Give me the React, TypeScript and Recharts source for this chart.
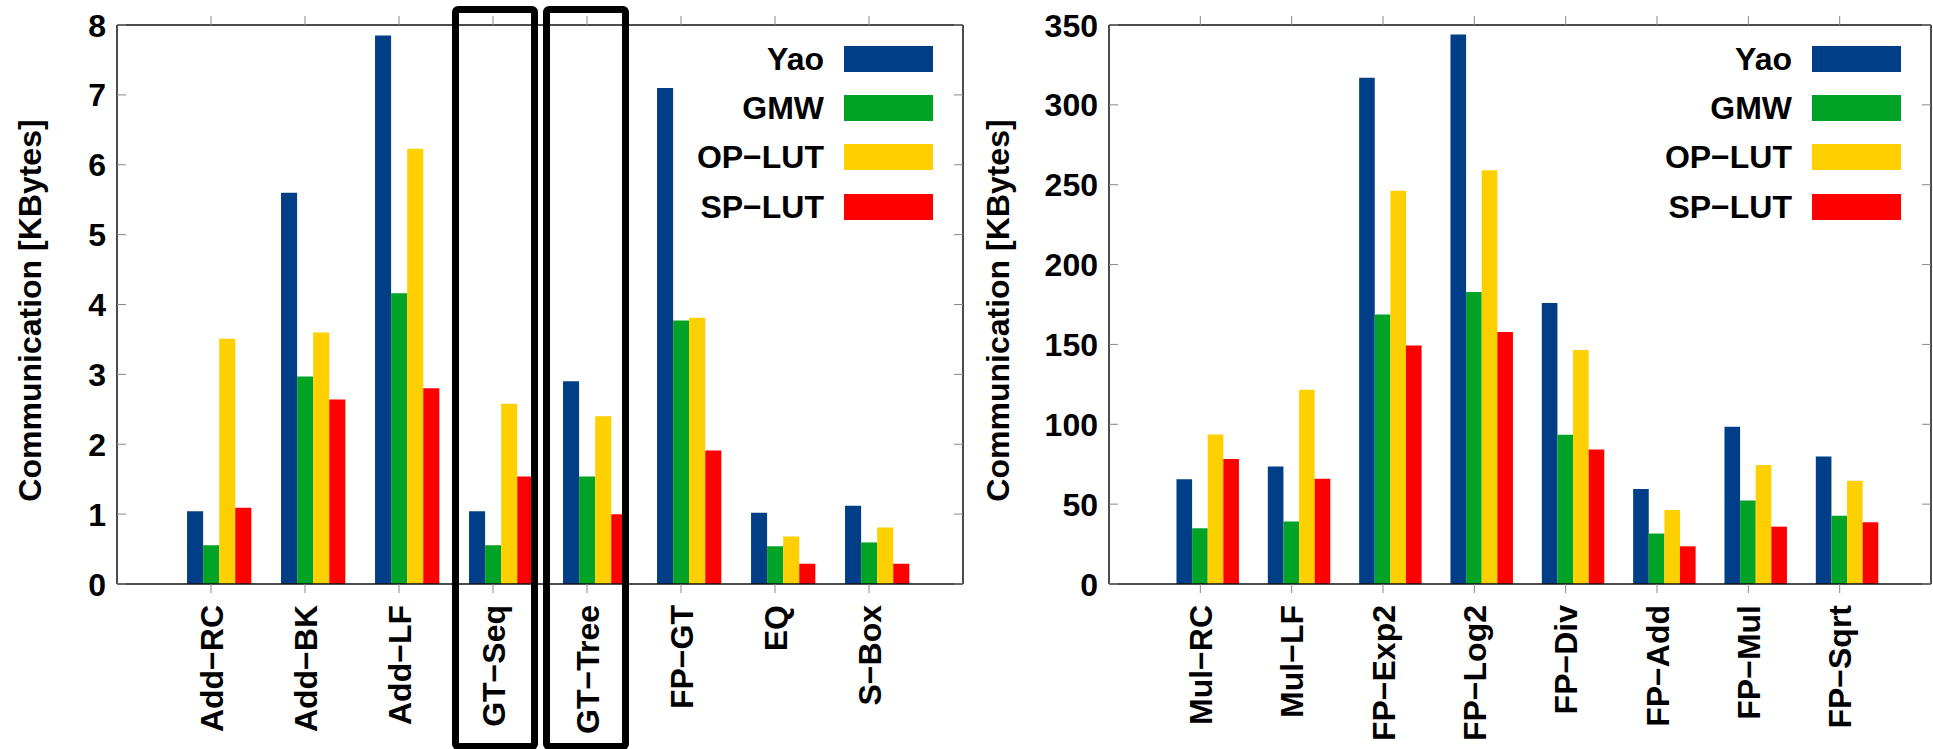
import React from 'react';
import { BarChart, Bar, XAxis, YAxis, Legend } from 'recharts';

// series shared by both panels
const seriesKeys = ['yao', 'gmw', 'op', 'sp'];
const seriesNames = ['Yao', 'GMW', 'OP−LUT', 'SP−LUT'];
const seriesColors = ['#003f87', '#00a325', '#ffd000', '#ff0000'];

// left panel (KBytes)
const leftCategories = ['Add−RC', 'Add−BK', 'Add−LF', 'GT−Seq', 'GT−Tree', 'FP−GT', 'EQ', 'S−Box'];
const leftYao = [1.04, 5.6, 7.85, 1.04, 2.9, 7.1, 1.02, 1.12];
const leftGmw = [0.555, 2.97, 4.16, 0.555, 1.54, 3.77, 0.54, 0.595];
const leftOpLut = [3.51, 3.6, 6.23, 2.58, 2.4, 3.81, 0.68, 0.81];
const leftSpLut = [1.09, 2.64, 2.8, 1.54, 1.0, 1.91, 0.29, 0.29];
const leftTicks = [0, 1, 2, 3, 4, 5, 6, 7, 8];

// right panel (KBytes)
const rightCategories = ['Mul−RC', 'Mul−LF', 'FP−Exp2', 'FP−Log2', 'FP−Div', 'FP−Add', 'FP−Mul', 'FP−Sqrt'];
const rightYao = [65.6, 73.6, 317, 344, 175.9, 59.5, 98.4, 79.8];
const rightGmw = [34.9, 39.1, 168.7, 182.8, 93.4, 31.6, 52.3, 42.8];
const rightOpLut = [93.6, 121.6, 246.2, 259.1, 146.5, 46.4, 74.5, 64.6];
const rightSpLut = [78.3, 65.9, 149.4, 157.8, 84.2, 23.6, 35.9, 38.6];
const rightTicks = [0, 50, 100, 150, 200, 250, 300, 350];

const yLabel = 'Communication [KBytes]';

const FONT = '"Liberation Sans", Arial, Helvetica, sans-serif';
const H = 749;
const TOP_AXIS_H = 25;
const BOTTOM_AXIS_H = 165;
const TICK_GRAY = '#888';

type Box = { index: number; dx: number };

type PanelProps = {
  left: number;
  width: number;
  plotLeft: number;
  plotRight: number;
  categories: string[];
  series: number[][];
  yTicks: number[];
  labelX: number;
  legendRight: number;
  boxes?: Box[];
};

function Panel(p: PanelProps) {
  const data = p.categories.map((name, i) => {
    const row: Record<string, string | number> = { name };
    seriesKeys.forEach((k, s) => {
      row[k] = p.series[s][i];
    });
    return row;
  });

  const yMax = p.yTicks[p.yTicks.length - 1];
  const plotW = p.plotRight - p.plotLeft;
  const band = plotW / 9; // like gnuplot xrange [-1:8]
  const bar = band * 0.171;
  const shift = bar / 2; // ticks sit half a bar left of the cluster centre
  const padL = band / 2 + shift;
  const padR = band - padL;
  const plotTop = TOP_AXIS_H;
  const plotBottom = H - BOTTOM_AXIS_H;

  const textStyle = { fontFamily: FONT, fontWeight: 'bold' as const, fontSize: 32, fill: '#000' };

  const BottomTick = (t: any) => {
    const x = t.payload.coordinate - shift;
    const y = t.y;
    return (
      <g>
        <line x1={x} x2={x} y1={y} y2={y + 9} stroke={TICK_GRAY} />
        <text transform={`translate(${x},${y + 21}) rotate(-90)`} textAnchor="end" dy="0.36em" style={textStyle}>
          {t.payload.value}
        </text>
      </g>
    );
  };

  const TopTick = (t: any) => {
    const x = t.payload.coordinate - shift;
    return <line x1={x} x2={x} y1={t.y} y2={t.y - 9} stroke={TICK_GRAY} />;
  };

  const LeftTick = (t: any) => (
    <g>
      <line x1={t.x} x2={t.x + 9} y1={t.y} y2={t.y} stroke={TICK_GRAY} />
      <text x={t.x - 11} y={t.y} dy="0.36em" textAnchor="end" style={textStyle}>
        {t.payload.value}
      </text>
    </g>
  );

  const RightTick = (t: any) => <line x1={t.x} x2={t.x - 9} y1={t.y} y2={t.y} stroke={TICK_GRAY} />;

  const renderLegend = (lp: any) => {
    const items = [...((lp.payload || []) as any[])].sort(
      (a, b) => seriesNames.indexOf(a.value) - seriesNames.indexOf(b.value)
    );
    return (
      <div style={{ display: 'flex', flexDirection: 'column', alignItems: 'flex-end' }}>
        {items.map((it) => (
          <div key={it.value} style={{ height: 49.4, display: 'flex', alignItems: 'center' }}>
            <span style={{ font: `bold 32px ${FONT}`, lineHeight: '32px', color: '#000', marginRight: 20 }}>
              {it.value}
            </span>
            <span style={{ display: 'inline-block', width: 89, height: 26, background: it.color }} />
          </div>
        ))}
      </div>
    );
  };

  const axisLine = { stroke: '#111', strokeWidth: 1.5 };

  return (
    <div style={{ position: 'absolute', left: p.left, top: 0, width: p.width, height: H }}>
      <BarChart
        width={p.width}
        height={H}
        data={data}
        barGap={0}
        margin={{ top: 0, bottom: 0, left: 0, right: p.width - p.plotRight - 1 }}
      >
        <XAxis
          dataKey="name"
          type="category"
          height={BOTTOM_AXIS_H}
          padding={{ left: padL, right: padR }}
          interval={0}
          tickSize={0}
          tickMargin={0}
          tickLine={false}
          axisLine={axisLine}
          tick={BottomTick}
        />
        <XAxis
          xAxisId="top"
          orientation="top"
          dataKey="name"
          type="category"
          height={TOP_AXIS_H}
          padding={{ left: padL, right: padR }}
          interval={0}
          tickSize={0}
          tickMargin={0}
          tickLine={false}
          axisLine={axisLine}
          tick={TopTick}
        />
        <YAxis
          type="number"
          width={p.plotLeft}
          domain={[0, yMax]}
          ticks={p.yTicks}
          interval={0}
          allowDataOverflow
          tickSize={0}
          tickMargin={0}
          tickLine={false}
          axisLine={axisLine}
          tick={LeftTick}
          label={() => (
            <text
              transform={`translate(${p.labelX},${(plotTop + plotBottom) / 2 + 6}) rotate(-90)`}
              textAnchor="middle"
              style={textStyle}
            >
              {yLabel}
            </text>
          )}
        />
        <YAxis
          yAxisId="r"
          orientation="right"
          type="number"
          width={1}
          domain={[0, yMax]}
          ticks={p.yTicks}
          interval={0}
          allowDataOverflow
          tickSize={0}
          tickMargin={0}
          tickLine={false}
          axisLine={axisLine}
          tick={RightTick}
        />
        <Legend
          layout="vertical"
          align="center"
          verticalAlign="middle"
          content={renderLegend}
          wrapperStyle={{ position: 'absolute', top: 34, left: p.legendRight - 420, width: 420, height: 'auto' }}
        />
        {seriesKeys.map((k, s) => (
          <Bar key={k} dataKey={k} name={seriesNames[s]} fill={seriesColors[s]} barSize={bar} isAnimationActive={false} />
        ))}
      </BarChart>
      {(p.boxes || []).map((b) => {
        const tickX = p.plotLeft + band * (b.index + 1);
        return (
          <div
            key={b.index}
            style={{
              position: 'absolute',
              left: tickX + b.dx,
              top: 6,
              width: 86,
              height: 744,
              border: '7px solid #000',
              borderRadius: 6,
              boxSizing: 'border-box',
              pointerEvents: 'none',
            }}
          />
        );
      })}
    </div>
  );
}

export default function App() {
  return (
    <div style={{ position: 'absolute', left: 0, top: 0, width: 1933, height: H, background: '#fff', overflow: 'hidden' }}>
      <Panel
        left={0}
        width={975}
        plotLeft={117}
        plotRight={963}
        categories={leftCategories}
        series={[leftYao, leftGmw, leftOpLut, leftSpLut]}
        yTicks={leftTicks}
        labelX={41}
        legendRight={933}
        boxes={[
          { index: leftCategories.indexOf('GT−Seq'), dx: -41 },
          { index: leftCategories.indexOf('GT−Tree'), dx: -44 },
        ]}
      />
      <Panel
        left={975}
        width={958}
        plotLeft={134}
        plotRight={956}
        categories={rightCategories}
        series={[rightYao, rightGmw, rightOpLut, rightSpLut]}
        yTicks={rightTicks}
        labelX={34}
        legendRight={926}
      />
    </div>
  );
}
